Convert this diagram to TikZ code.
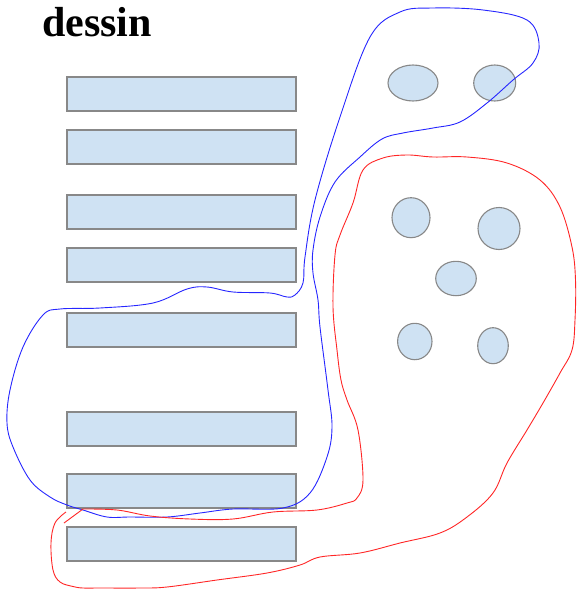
\documentclass[tikz,border=0pt]{standalone}
\usepackage{fontspec}
\setmainfont{Liberation Serif}
\usetikzlibrary{shapes.geometric}
\definecolor{boxfill}{HTML}{CFE2F3}
\definecolor{boxline}{HTML}{888888}
\tikzset{
  bar/.style={draw=boxline, fill=boxfill, line width=1.1pt, rectangle, inner sep=0pt, minimum width=229pt, minimum height=34pt},
  blob/.style={draw=boxline, fill=boxfill, line width=1.1pt, ellipse, inner sep=0pt},
  bluepath/.style={draw=blue!85!white, line width=0.9pt},
  redpath/.style={draw=red!85!white, line width=0.9pt}
}
\begin{document}
\begin{tikzpicture}[x=1pt,y=-1pt]
\useasboundingbox (0,0) rectangle (576,589);
\node[anchor=base west, inner sep=0pt, font=\fontsize{42}{42}\selectfont\bfseries] (title) at (42,36) {dessin};
% bars
\node[bar] (r1) at (181.5,94) {};
\node[bar] (r2) at (181.5,147) {};
\node[bar] (r3) at (181.5,212) {};
\node[bar] (r4) at (181.5,265) {};
\node[bar] (r5) at (181.5,330) {};
\node[bar] (r6) at (181.5,429) {};
\node[bar] (r7) at (181.5,491) {};
\node[bar] (r8) at (181.5,544) {};
% ellipses
\node[blob, minimum width=50pt, minimum height=36pt] (e1) at (413,83) {};
\node[blob, minimum width=42pt, minimum height=36pt] (e2) at (494.7,83) {};
\node[blob, minimum width=38pt, minimum height=40pt] (e3) at (411,217.7) {};
\node[blob, minimum width=42pt, minimum height=42pt] (e4) at (499,228.5) {};
\node[blob, minimum width=40.6pt, minimum height=34.4pt] (e5) at (456,278.5) {};
\node[blob, minimum width=34.4pt, minimum height=36.4pt] (e6) at (414.8,341.5) {};
\node[blob, minimum width=30.6pt, minimum height=36pt] (e7) at (493,345.7) {};
% blue loop
\draw[bluepath] plot[smooth cycle, tension=0.6] coordinates {
(305,257) (303,283) (295,295) (287,297) (270,293) (233,292) (207,287) (187,289)
(153,303) (100,308) (60,309) (43,315) (23,347) (10,390) (7,423) (13,447)
(30,480) (50,497) (67,505) (83,510) (107,517) (130,517) (167,517) (200,513)
(233,509) (283,508) (310,493) (327,457) (332,427) (328,390) (320,327) (318,300)
(313,273) (313,250) (320,217) (335,182) (360,157) (382,139) (403,133)
(433,128) (460,122) (487,103) (513,80) (533,63) (539,43) (527,20) (483,10)
(433,8) (400,12) (370,37) (340,117) (315,200)};
% red loop
\coordinate (tailA) at (64,523);
\coordinate (tailB) at (83,509);
\draw[redpath] (tailA) -- (tailB);
\draw[redpath] plot[smooth, tension=0.6] coordinates {
(83,509) (117,510) (150,516) (190,519) (233,519) (273,512) (317,510) (347,503)
(357,498) (363,480) (358,430) (347,400) (341,380) (337,350) (333,307) (335,255)
(340,235) (353,203) (363,170) (383,158) (407,155) (433,157) (467,157) (507,163)
(540,180) (560,207) (572,247) (575.5,280) (575,320) (572,350) (560,373) (543,403)
(527,430) (507,463) (493,493) (467,517) (440,533) (400,543) (360,553) (320,557)
(300,565) (267,573) (217,580) (167,587) (140,588) (100,588) (83,588) (73,586.5)
(60,582) (53,570) (51,543) (55,523) (66,512)};
\end{tikzpicture}
\end{document}
